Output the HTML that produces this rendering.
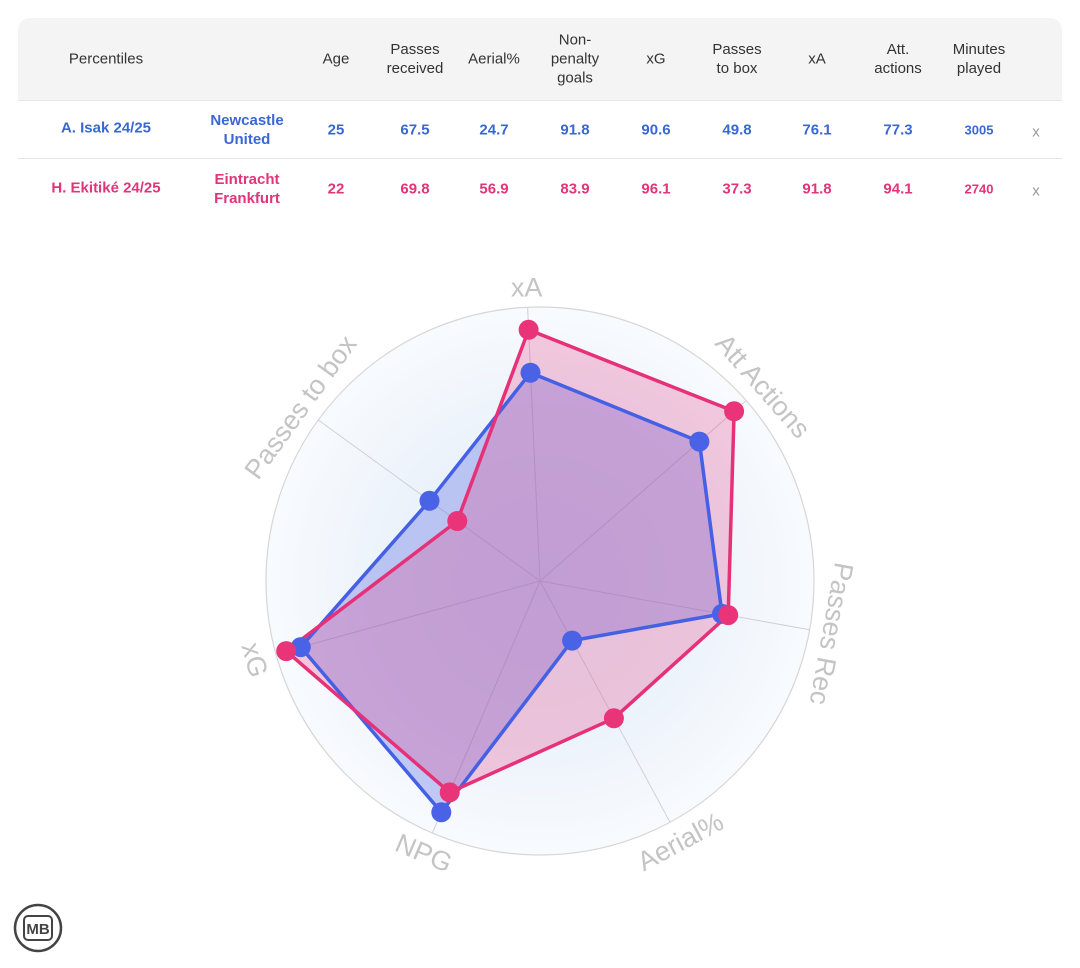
<!DOCTYPE html>
<html><head><meta charset="utf-8"><style>
body{margin:0;width:1080px;height:968px;background:#fff;font-family:"Liberation Sans",sans-serif;position:relative;overflow:hidden}
.card{position:absolute;left:18px;top:18px;width:1044px;height:198px;border-radius:12px;overflow:hidden}
.hdr{position:absolute;left:0;top:0;width:1044px;height:82px;background:#f4f4f4;border-bottom:1px solid #e6e6e6}
.c{position:absolute;transform:translate(-50%,-50%);text-align:center;font-size:15px;line-height:19px;white-space:nowrap}
.h{color:#333}
.b{color:#3a67d6;font-weight:bold}
.p{color:#e0357a;font-weight:bold}
.sep{position:absolute;left:0;top:140px;width:1044px;height:1px;background:#e6e6e6}
</style></head><body>
<div class="card"><div class="hdr"></div><div class="sep"></div></div>
<div class="c h" style="left:106px;top:59px">Percentiles</div>
<div class="c h" style="left:336px;top:59px">Age</div>
<div class="c h" style="left:415px;top:59px">Passes<br>received</div>
<div class="c h" style="left:494px;top:59px">Aerial%</div>
<div class="c h" style="left:575px;top:59px">Non-<br>penalty<br>goals</div>
<div class="c h" style="left:656px;top:59px">xG</div>
<div class="c h" style="left:737px;top:59px">Passes<br>to box</div>
<div class="c h" style="left:817px;top:59px">xA</div>
<div class="c h" style="left:898px;top:59px">Att.<br>actions</div>
<div class="c h" style="left:979px;top:59px">Minutes<br>played</div>

<div class="c b" style="left:106px;top:128px">A. Isak 24/25</div>
<div class="c b" style="left:247px;top:130px">Newcastle<br>United</div>
<div class="c b" style="left:336px;top:130px">25</div>
<div class="c b" style="left:415px;top:130px">67.5</div>
<div class="c b" style="left:494px;top:130px">24.7</div>
<div class="c b" style="left:575px;top:130px">91.8</div>
<div class="c b" style="left:656px;top:130px">90.6</div>
<div class="c b" style="left:737px;top:130px">49.8</div>
<div class="c b" style="left:817px;top:130px">76.1</div>
<div class="c b" style="left:898px;top:130px">77.3</div>
<div class="c b" style="left:979px;top:130px;font-size:13px">3005</div>
<div class="c" style="left:1036px;top:132px;color:#999">x</div>

<div class="c p" style="left:106px;top:188px">H. Ekitiké 24/25</div>
<div class="c p" style="left:247px;top:189px">Eintracht<br>Frankfurt</div>
<div class="c p" style="left:336px;top:189px">22</div>
<div class="c p" style="left:415px;top:189px">69.8</div>
<div class="c p" style="left:494px;top:189px">56.9</div>
<div class="c p" style="left:575px;top:189px">83.9</div>
<div class="c p" style="left:656px;top:189px">96.1</div>
<div class="c p" style="left:737px;top:189px">37.3</div>
<div class="c p" style="left:817px;top:189px">91.8</div>
<div class="c p" style="left:898px;top:189px">94.1</div>
<div class="c p" style="left:979px;top:189px;font-size:13px">2740</div>
<div class="c" style="left:1036px;top:191px;color:#999">x</div>

<svg width="1080" height="968" style="position:absolute;left:0;top:0">
<defs><radialGradient id="g" cx="540" cy="581" r="274" gradientUnits="userSpaceOnUse">
<stop offset="0" stop-color="#e6eef8"/><stop offset="0.6" stop-color="#edf3fb"/><stop offset="1" stop-color="#f8fbfe"/></radialGradient></defs>
<circle cx="540" cy="581" r="274" fill="url(#g)" stroke="#d6d6d6" stroke-width="1.2"/>
<g stroke="#d0d0d8" stroke-width="1">
<line x1="540" y1="581" x2="527.6" y2="307.3"/><line x1="540" y1="581" x2="746.3" y2="400.6"/>
<line x1="540" y1="581" x2="809.6" y2="629.8"/><line x1="540" y1="581" x2="670" y2="822.2"/>
<line x1="540" y1="581" x2="432.4" y2="833"/><line x1="540" y1="581" x2="275.9" y2="654"/>
<line x1="540" y1="581" x2="318.3" y2="420"/></g>
<polygon points="530.5,372.7 699.4,441.6 722,613.9 572.1,640.6 441.3,812.3 300.8,647.1 429.5,500.8" fill="rgba(70,90,225,0.3)"/>
<polygon points="528.6,329.8 734.1,411.3 728.2,615.1 613.9,718.3 449.7,792.4 286.2,651.1 457.3,521" fill="rgba(228,50,125,0.25)"/>
<polygon points="530.5,372.7 699.4,441.6 722,613.9 572.1,640.6 441.3,812.3 300.8,647.1 429.5,500.8" fill="none" stroke="#4560e4" stroke-width="3.5" stroke-linejoin="round"/>
<polygon points="528.6,329.8 734.1,411.3 728.2,615.1 613.9,718.3 449.7,792.4 286.2,651.1 457.3,521" fill="none" stroke="#e63179" stroke-width="3.5" stroke-linejoin="round"/>
<g fill="#4a62e6"><circle cx="530.5" cy="372.7" r="10"/><circle cx="699.4" cy="441.6" r="10"/><circle cx="722" cy="613.9" r="10"/><circle cx="572.1" cy="640.6" r="10"/><circle cx="441.3" cy="812.3" r="10"/><circle cx="300.8" cy="647.1" r="10"/><circle cx="429.5" cy="500.8" r="10"/></g>
<g fill="#ea3479"><circle cx="528.6" cy="329.8" r="10"/><circle cx="734.1" cy="411.3" r="10"/><circle cx="728.2" cy="615.1" r="10"/><circle cx="613.9" cy="718.3" r="10"/><circle cx="449.7" cy="792.4" r="10"/><circle cx="286.2" cy="651.1" r="10"/><circle cx="457.3" cy="521" r="10"/></g>
<g font-family="Liberation Sans, sans-serif" font-size="27" fill="#c4c4c4" text-anchor="middle" dominant-baseline="central">
<text transform="translate(526.6,287.3)">xA</text>
<text transform="translate(762.8,386.1) rotate(48.8)">Att Actions</text>
<text transform="translate(831.3,633.7) rotate(100.3)">Passes Rec</text>
<text transform="translate(680.4,841.6) rotate(-28.3)">Aerial%</text>
<text transform="translate(423.8,853.2) rotate(23.1)">NPG</text>
<text transform="translate(254.7,659.9) rotate(74.5)">xG</text>
<text transform="translate(300.5,407.1) rotate(-54)">Passes to box</text>
</g>
<g transform="translate(38,928)">
<circle r="23" fill="#fff" stroke="#444" stroke-width="2.5"/>
<rect x="-14" y="-12" width="28" height="24" rx="4" fill="none" stroke="#444" stroke-width="2"/>
<text x="0" y="6" font-family="Liberation Sans, sans-serif" font-size="15" font-weight="bold" text-anchor="middle" fill="#444">MB</text>
</g>
</svg>
</body></html>
